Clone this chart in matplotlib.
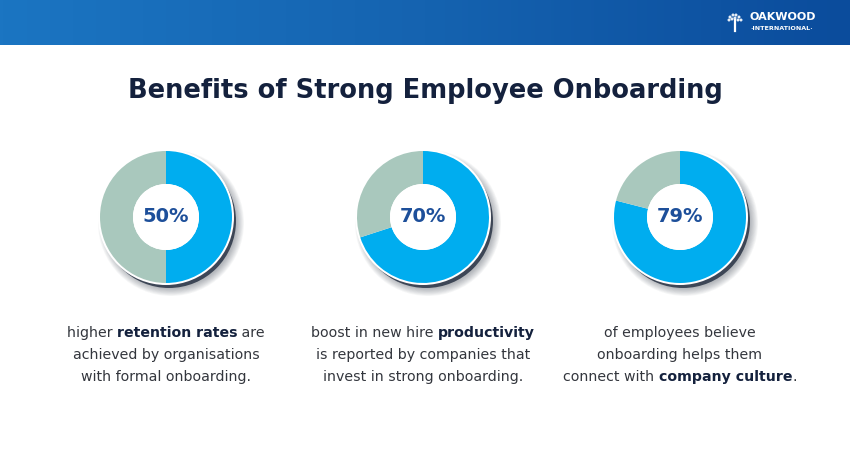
import numpy as np
import matplotlib.pyplot as plt
from matplotlib.patches import Circle
from matplotlib.colors import LinearSegmentedColormap

# data
title = "Benefits of Strong Employee Onboarding"
percents = [50, 70, 79]
labels = ["50%", "70%", "79%"]
# each caption: list of lines, each line a list of (text, bold)
captions = [
    [[("higher ", False), ("retention rates", True), (" are", False)],
     [("achieved by organisations", False)],
     [("with formal onboarding.", False)]],
    [[("boost in new hire ", False), ("productivity", True)],
     [("is reported by companies that", False)],
     [("invest in strong onboarding.", False)]],
    [[("of employees believe", False)],
     [("onboarding helps them", False)],
     [("connect with ", False), ("company culture", True), (".", False)]],
]

W, H = 850, 450
BLUE = "#00adef"
GREY = "#a9c8bd"
NAVY = "#14213d"
PCT = "#1d4f9a"
BODY = "#33363d"

fig = plt.figure(figsize=(8.5, 4.5), dpi=100)
ax = fig.add_axes([0, 0, 1, 1])

# header band with gradient
grad = np.linspace(0, 1, 256).reshape(1, -1)
cmap = LinearSegmentedColormap.from_list("hdr", ["#1b75c2", "#1563b0", "#0b4c9c"])
ax.imshow(grad, extent=[0, W, H - 45, H], cmap=cmap, aspect="auto", zorder=0)

# logo
ax.text(750, H - 17, "OAKWOOD", color="white", fontsize=8, fontweight="bold",
        ha="left", va="center", family="DejaVu Sans")
ax.text(782, H - 28.5, "·INTERNATIONAL·", color="white", fontsize=4.6, fontweight="bold",
        ha="center", va="center", family="DejaVu Sans")
for dx, dy in [(-5, 3), (-2, 5), (1, 5), (4, 3), (6, 0), (-6, 0), (-3, 1), (0, 2), (3, 0)]:
    ax.add_patch(Circle((735 + dx, H - 20 + dy), 1.5, color="white", alpha=0.9, lw=0, zorder=2))
ax.plot([735, 735], [H - 31, H - 20], color="white", lw=1.6, zorder=2)

# title
ax.text(W / 2, H - 91, title, color=NAVY, fontsize=18.5, fontweight="heavy",
        ha="center", va="center", family="DejaVu Sans")

centers_x = [166, 423, 680]
cy = H - 217
R = 66

for cx, p, lab in zip(centers_x, percents, labels):
    # soft shadow
    for k in range(10):
        ax.add_patch(Circle((cx + 5, cy - 6), R + 7 - k * 0.8, color="#1a2233",
                            alpha=0.035, lw=0, zorder=1))
    ax.add_patch(Circle((cx + 3, cy - 4), R + 1, color="#1f2a3c", lw=0, zorder=2, alpha=0.8))
    ax.add_patch(Circle((cx, cy), R + 2, color="white", lw=0, zorder=3))
    wedges, _ = ax.pie([p, 100 - p], colors=[BLUE, GREY], startangle=90, counterclock=False,
                       center=(cx, cy), radius=R, frame=True,
                       wedgeprops=dict(width=R * 0.5, linewidth=0))
    for w in wedges:
        w.set_zorder(4)
    ax.add_patch(Circle((cx, cy), R * 0.5, color="white", lw=0, zorder=5))
    ax.text(cx, cy, lab, color=PCT, fontsize=14, fontweight="bold",
            ha="center", va="center", zorder=6, family="DejaVu Sans")

ax.set_xlim(0, W)
ax.set_ylim(0, H)
ax.set_aspect("equal")
ax.axis("off")

# captions: centered lines with mixed weights
fig.canvas.draw()
r = fig.canvas.get_renderer()
line_y = [H - 333, H - 355, H - 377]
for cx, cap in zip(centers_x, captions):
    for ly, parts in zip(line_y, cap):
        arts = []
        widths = []
        for txt, bold in parts:
            t = ax.text(0, ly, txt, fontsize=10.2, ha="left", va="center",
                        color=NAVY if bold else BODY,
                        fontweight="bold" if bold else "normal", family="DejaVu Sans")
            bb = t.get_window_extent(renderer=r)
            arts.append(t)
            widths.append(bb.width)
        total = sum(widths)
        x = cx - total / 2
        for t, wd in zip(arts, widths):
            t.set_x(x)
            x += wd

fig.savefig("out.png", dpi=100)
